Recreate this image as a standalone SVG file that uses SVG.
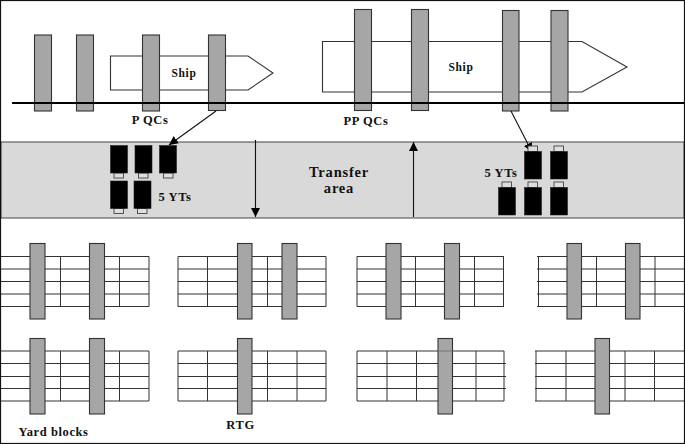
<svg xmlns="http://www.w3.org/2000/svg" width="685" height="444" viewBox="0 0 685 444">
<style>
.t{font-family:"Liberation Serif","Times New Roman",serif;font-weight:bold;font-size:12.5px;letter-spacing:.6px;fill:#111;text-anchor:middle}
.s{font-size:11.5px}
.big{font-size:14.5px;letter-spacing:.8px}
.ln{fill:none;stroke:#333;stroke-width:1.1}
.qc{fill:#a6a6a6;stroke:#333;stroke-width:1.1}
.yt{fill:#000;stroke:#222;stroke-width:.6}
.cab{fill:#dedede;stroke:#444;stroke-width:.9}
.g{fill:none;stroke:#333;stroke-width:1}
.c{fill:none;stroke:#111;stroke-width:1.1}
</style>
<defs>
<marker id="ah" markerUnits="userSpaceOnUse" markerWidth="9" markerHeight="10" refX="9" refY="4.500" orient="auto"><path d="M0 0L9 4.500L0 9z" fill="#000"/></marker>
</defs>
<rect x="0" y="0" width="685" height="444" fill="#fff"/>
<g id="transfer-area">
<rect x="1" y="142" width="683" height="76" fill="#d9d9d9" stroke="#444" stroke-width="1"/>
<text class="t big" x="339" y="177">Transfer</text>
<text class="t big" x="339" y="193">area</text>
</g>
<g id="ship-p"><path class="ln" d="M248 56H110.500V90H248L273 73z"/><text class="t s" x="184" y="76.500">Ship</text></g>
<g id="ship-pp"><path class="ln" d="M582 41.500H322.500V92H582L627 67z"/><text class="t s" x="461" y="70.500">Ship</text></g>
<g id="p-qcs">
<rect class="qc" x="34.500" y="35" width="17" height="76"/>
<rect class="qc" x="76.500" y="35" width="17" height="76"/>
<rect class="qc" x="142.500" y="35" width="17" height="76"/>
<rect class="qc" x="208.500" y="35" width="17" height="75.500"/>
<text class="t" x="150" y="124">P QCs</text>
</g>
<g id="pp-qcs">
<rect class="qc" x="354.500" y="9.500" width="17" height="101"/>
<rect class="qc" x="411.500" y="9.500" width="17" height="101"/>
<rect class="qc" x="502.500" y="10.500" width="16.500" height="100.500"/>
<rect class="qc" x="551" y="10.500" width="17" height="100.500"/>
<text class="t" x="366" y="125">PP QCs</text>
</g>
<g id="quay"><path d="M12 103H684" stroke="#000" stroke-width="1.800" fill="none"/></g>
<g id="connectors">
<path class="c" d="M216 111L169 145" marker-end="url(#ah)"/>
<path class="c" d="M511 111L532 152" marker-end="url(#ah)"/>
<path class="c" d="M255.500 140V217" marker-end="url(#ah)"/>
<path class="c" d="M413.500 217V142" marker-end="url(#ah)"/>
</g>
<g id="yts-left">
<rect class="cab" x="114" y="173" width="9.500" height="5"/><rect class="yt" x="110.500" y="145.500" width="17" height="27.500"/>
<rect class="cab" x="138.500" y="173" width="9.500" height="5"/><rect class="yt" x="135" y="145.500" width="17" height="27.500"/>
<rect class="cab" x="163.500" y="173" width="9.500" height="5"/><rect class="yt" x="159.500" y="145.500" width="17" height="27.500"/>
<rect class="cab" x="114" y="208.500" width="9.500" height="5"/><rect class="yt" x="110.500" y="181" width="17" height="27.500"/>
<rect class="cab" x="137.500" y="208.500" width="9.500" height="5"/><rect class="yt" x="134" y="181" width="17" height="27.500"/>
<text class="t" x="175" y="201">5 YTs</text>
</g>
<g id="yts-right">
<rect class="cab" x="528" y="146" width="9.500" height="5.500"/><rect class="yt" x="524.500" y="151.500" width="17" height="27.500"/>
<rect class="cab" x="554" y="146" width="9.500" height="5.500"/><rect class="yt" x="550.500" y="151.500" width="17" height="27.500"/>
<rect class="cab" x="502" y="182" width="9.500" height="5.500"/><rect class="yt" x="498.500" y="187.500" width="17" height="27.500"/>
<rect class="cab" x="528" y="182" width="9.500" height="5.500"/><rect class="yt" x="524.500" y="187.500" width="17" height="27.500"/>
<rect class="cab" x="554" y="182" width="9.500" height="5.500"/><rect class="yt" x="550.500" y="187.500" width="17" height="27.500"/>
<text class="t" x="501" y="177">5 YTs</text>
</g>
<g id="yard-block-1">
<path class="g" d="M1 256.500H149M1 269H149M1 281.500H149M1 294H149M1 306.500H149M60.500 256.500V306.500M119.500 256.500V306.500M149 256.500V306.500"/>
<rect class="qc" x="30" y="243.500" width="15" height="75.500"/><rect class="qc" x="89.500" y="243.500" width="15" height="75.500"/>
</g>
<g id="yard-block-2">
<path class="g" d="M178 256.500H326M178 269H326M178 281.500H326M178 294H326M178 306.500H326M178 256.500V306.500M207.500 256.500V306.500M267.500 256.500V306.500M326 256.500V306.500"/>
<rect class="qc" x="237.500" y="243.500" width="14.500" height="75.500"/><rect class="qc" x="282" y="243.500" width="15" height="75.500"/>
</g>
<g id="yard-block-3">
<path class="g" d="M357 256.500H504M357 269H504M357 281.500H504M357 294H504M357 306.500H504M357 256.500V306.500M415.500 256.500V306.500M474.500 256.500V306.500M503.500 256.500V306.500"/>
<rect class="qc" x="386" y="243.500" width="15" height="75.500"/><rect class="qc" x="444.500" y="243.500" width="15" height="75.500"/>
</g>
<g id="yard-block-4">
<path class="g" d="M537 256.500H684M537 269H684M537 281.500H684M537 294H684M537 306.500H684M538.500 256.500V306.500M596.500 256.500V306.500M655 256.500V306.500"/>
<rect class="qc" x="567" y="243.500" width="14.500" height="75.500"/><rect class="qc" x="625.500" y="243.500" width="14.500" height="75.500"/>
</g>
<g id="yard-block-5">
<path class="g" d="M1 351H149M1 363.500H149M1 376.500H149M1 388.500H149M1 401H149M60.500 351V401M119.500 351V401M149 351V401"/>
<rect class="qc" x="30" y="338.500" width="15" height="75.500"/><rect class="qc" x="89.500" y="338.500" width="15" height="75.500"/>
<text class="t" x="53.500" y="436">Yard blocks</text>
</g>
<g id="yard-block-6">
<path class="g" d="M178 351H326M178 363.500H326M178 376.500H326M178 388.500H326M178 401H326M178 351V401M207.500 351V401M267.500 351V401M297 351V401M326 351V401"/>
<rect class="qc" x="237.500" y="338.500" width="14.500" height="75.500"/>
<text class="t" x="240.500" y="429">RTG</text>
</g>
<g id="yard-block-7">
<path class="g" d="M357 351H504M357 363.500H506M357 376.500H506M357 388.500H506M357 401H504M357 351V401M387 351V401M416.500 351V401M476 351V401M504 351V401"/>
<rect class="qc" x="438" y="338.500" width="14.500" height="75.500"/>
<path d="M438 351H452.500" stroke="#777" stroke-width="1" fill="none"/>
</g>
<g id="yard-block-8">
<path class="g" d="M535 351H684M535 363.500H684M535 376.500H684M535 388.500H684M535 401H684M536 351V401M566 351V401M625 351V401M654.500 351V401"/>
<rect class="qc" x="595" y="338.500" width="14.500" height="75.500"/>
</g>
<g id="frame"><rect x=".5" y=".5" width="684" height="443" fill="none" stroke="#111" stroke-width="1.200"/></g>
</svg>
